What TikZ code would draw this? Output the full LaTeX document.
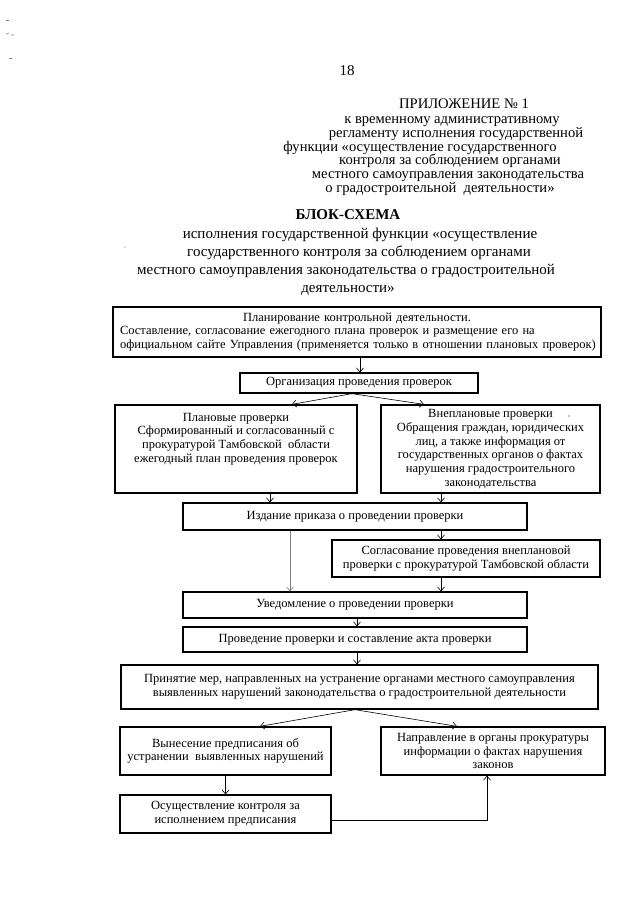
\documentclass[tikz,border=0pt]{standalone}
\usepackage{fontspec}
\setmainfont{Liberation Serif}
\usetikzlibrary{arrows.meta}
\newcommand\boxfnt{\fontsize{12.5pt}{13.7pt}\selectfont}
\newcommand\hdrfnt{\fontsize{14.6pt}{14pt}\selectfont}
\newcommand\ttlfnt{\fontsize{15pt}{18pt}\selectfont}
\begin{document}
\begin{tikzpicture}[x=1pt,y=-1pt,
  box/.style={draw, line width=1.3pt, inner sep=0pt, align=center, font=\boxfnt},
  txt/.style={inner sep=0pt, align=center, font=\boxfnt},
  hdr/.style={inner sep=0pt, anchor=base, font=\hdrfnt},
  ttl/.style={inner sep=0pt, anchor=base, font=\ttlfnt},
  arr/.style={-{Straight Barb[length=4pt,width=7pt]}, line width=0.6pt},
  speck/.style={line width=0.6pt, gray}]
\useasboundingbox (0,0) rectangle (640,905);
\fill[white] (0,0) rectangle (640,905);
% scan specks
\draw[speck] (6,20) -- (9,20);
\draw[speck] (6,34) -- (9,33) (11,35) -- (14,35);
\draw[speck] (9,58) -- (12,58);
\fill[gray] (125,247) circle (0.6pt);
% header
\node[ttl] (pg) at (347,75) {18};
\node[hdr] (h1) at (464,108) {ПРИЛОЖЕНИЕ № 1};
\node[hdr] (h2) at (452,123) {к временному административному};
\node[hdr] (h3) at (456,137) {регламенту исполнения государственной};
\node[hdr] (h4) at (420,151) {функции «осуществление государственного};
\node[hdr] (h5) at (450,164.5) {контроля за соблюдением органами};
\node[hdr] (h6) at (448,178) {местного самоуправления законодательства};
\node[hdr] (h7) at (440,192) {о градостроительной\ \ деятельности»};
% title
\node[ttl, font=\ttlfnt\bfseries] (t1) at (348,219) {БЛОК-СХЕМА};
\node[ttl] (t2) at (360,238) {исполнения государственной функции «осуществление};
\node[ttl] (t3) at (359,256) {государственного контроля за соблюдением органами};
\node[ttl] (t4) at (346,274) {местного самоуправления законодательства о градостроительной};
\node[ttl] (t5) at (348,292) {деятельности»};
% boxes
\node[box, minimum width=488pt, minimum height=50pt, text width=474pt, align=left] (plan) at (357,332)
  {\makebox[474pt]{Планирование контрольной деятельности.}\\
   \makebox[474pt][s]{Составление, согласование ежегодного плана проверок и размещение его на}\\
   \makebox[474pt][s]{официальном сайте Управления (применяется только в отношении плановых проверок)}};
\node[box, minimum width=238pt, minimum height=20pt] (org) at (359,383) {Организация проведения проверок};
\node[box, minimum width=242pt, minimum height=88pt] (pl) at (236,449) {};
\node[txt] (plt) at (236,439) {Плановые проверки\\Сформированный и согласованный с\\прокуратурой Тамбовской\ \ области\\ежегодный план проведения проверок};
\node[box, minimum width=219pt, minimum height=88pt] (vn) at (490.5,449) {Внеплановые проверки\\Обращения граждан, юридических\\лиц, а также информация от\\государственных органов о фактах\\нарушения градостроительного\\законодательства};
\fill (569,416) circle (0.6pt);
\node[box, minimum width=344pt, minimum height=27pt] (izd) at (355,516.5) {Издание приказа о проведении проверки};
\node[box, minimum width=268pt, minimum height=37pt] (sog) at (466,558.5) {Согласование проведения внеплановой\\проверки с прокуратурой Тамбовской области};
\node[box, minimum width=344pt, minimum height=26pt] (uv) at (355,605) {Уведомление о проведении проверки};
\node[box, minimum width=344pt, minimum height=25pt] (pr) at (355,639.5) {Проведение проверки и составление акта проверки};
\node[box, minimum width=477pt, minimum height=44pt] (pm) at (359.5,687) {Принятие мер, направленных на устранение органами местного самоуправления\\выявленных нарушений законодательства о градостроительной деятельности};
\node[box, minimum width=211pt, minimum height=48pt] (vy) at (225.5,751) {Вынесение предписания об\\устранении\ \ выявленных нарушений};
\node[box, minimum width=224pt, minimum height=48pt] (np) at (493,751) {Направление в органы прокуратуры\\информации о фактах нарушения\\законов};
\node[box, minimum width=211pt, minimum height=38pt] (os) at (225.5,814) {Осуществление контроля за\\исполнением предписания};
% connectors
\draw[arr] ([xshift=3pt]plan.south) -- ([xshift=1pt]org.north);
\draw[arr] ([xshift=-7pt]org.south) -- ([xshift=56pt]pl.north);
\draw[arr] ([xshift=-7pt]org.south) -- ([xshift=-66.5pt]vn.north);
\draw[arr] ([xshift=34pt]pl.south) -- ([xshift=34pt]pl.south |- izd.north);
\draw[arr] ([xshift=-49.5pt]vn.south) -- ([xshift=-49.5pt]vn.south |- izd.north);
\draw[arr] ([xshift=86pt]izd.south) -- ([xshift=86pt]izd.south |- sog.north);
\draw[arr, gray] ([xshift=-65pt]izd.south) -- ([xshift=-65pt]izd.south |- uv.north);
\draw[arr] ([xshift=-25pt]sog.south) -- ([xshift=-25pt]sog.south |- uv.north);
\draw[arr] ([xshift=2pt]uv.south) -- ([xshift=2pt]uv.south |- pr.north);
\draw[arr] ([xshift=2pt]pr.south) -- ([xshift=-2.5pt]pm.north);
\draw[arr] ([xshift=-4.5pt]pm.south) -- ([xshift=34.5pt]vy.north);
\draw[arr] ([xshift=-4.5pt]pm.south) -- ([xshift=-36pt]np.north);
\draw[arr] (vy.south) -- (os.north);
\draw[arr] ([yshift=-6pt]os.east) -| ([xshift=-6pt]np.south);
\end{tikzpicture}
\end{document}
